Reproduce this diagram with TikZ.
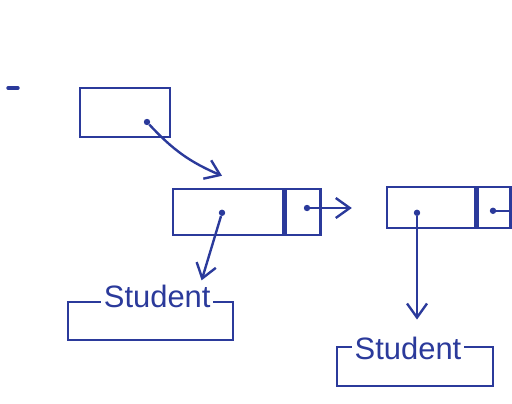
\documentclass[tikz,border=0pt]{standalone}
\usepackage{fontspec}
\setmainfont{Liberation Sans}
\usetikzlibrary{arrows.meta,positioning}
\definecolor{ink}{HTML}{2B3A9B}

\begin{document}
\begin{tikzpicture}[>={Straight Barb[length=3.5mm,width=5mm]},
 ln/.style={draw=ink,line width=1.7pt,line cap=round},
 cell/.style={draw=ink,line width=1.7pt,minimum height=1.15cm,inner sep=0pt},
 dot/.style={circle,fill=ink,inner sep=0pt,minimum size=1.6mm},
 ptr/.style={->,draw=ink,line width=1.7pt},
 tag/.style={fill=white,text=ink,inner sep=2pt,font=\fontsize{22}{24}\selectfont}]
\useasboundingbox (0,0) rectangle (12.8,-10.075);
\draw[ln,line width=2.4pt] (0.2,-2.2) -- (0.45,-2.2);
\node[cell,minimum width=2.25cm,minimum height=1.225cm] (head) at (3.125,-2.81) {};
\node[cell,minimum width=2.75cm] (b1) at (5.7,-5.3) {};
\node[cell,minimum width=0.875cm,right=0pt of b1] (b1next) {};
\node[cell,minimum width=2.2cm,minimum height=1.025cm] (b2) at (10.775,-5.19) {};
\node[cell,minimum width=0.825cm,minimum height=1.025cm,right=0pt of b2] (b2next) {};
\node[cell,minimum width=4.125cm,minimum height=0.95cm] (s1) at (3.76,-8.03) {};
\node[tag] (s1lbl) at (3.93,-7.42) {Student};
\node[cell,minimum width=3.9cm,minimum height=0.975cm] (s2) at (10.375,-9.16) {};
\node[tag] (s2lbl) at (10.2,-8.7) {Student};
\node[dot] (hdot) at (3.675,-3.05) {};
\node[dot] (b1dot) at (5.55,-5.32) {};
\node[dot] (b1ndot) at (7.675,-5.2) {};
\node[dot] (b2dot) at (10.425,-5.32) {};
\node[dot] (b2ndot) at (12.325,-5.27) {};
\draw[ptr] (hdot) to[bend right=12] ([xshift=-0.15cm,yshift=0.3cm]b1.north);
\draw[ptr,shorten >=0.85cm] (b1ndot) -- (b1ndot -| b2.west);
\draw[ln] (b2ndot) -- (b2ndot -| b2next.east);
\draw[ptr] (b1dot) -- ([xshift=-0.3cm,yshift=0.05cm]s1lbl.north east);
\draw[ptr,shorten >=0.35cm] (b2dot) -- (b2dot |- s2lbl.north);
\end{tikzpicture}
\end{document}
